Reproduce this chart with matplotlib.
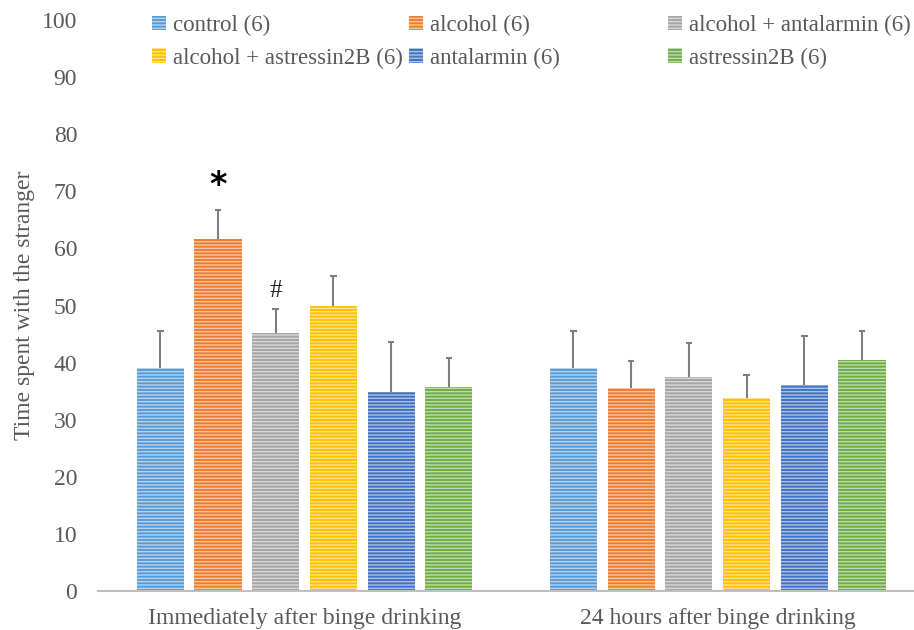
import matplotlib.pyplot as plt
import matplotlib.colors as mcolors
import numpy as np

plt.rcParams['font.family'] = ['Liberation Serif', 'DejaVu Serif']
plt.rcParams['hatch.linewidth'] = 1.0

categories = ['Immediately after binge drinking', '24 hours after binge drinking']
groups = ['control (6)', 'alcohol (6)', 'alcohol + antalarmin (6)',
          'alcohol + astressin2B (6)', 'antalarmin (6)', 'astressin2B (6)']
colors = ['#5B9BD5', '#ED7D31', '#A5A5A5', '#FFC000', '#4472C4', '#70AD47']

# rows = groups, columns = categories
means = [[39.0, 39.0],
         [61.6, 35.5],
         [45.2, 37.5],
         [49.9, 33.8],
         [34.9, 36.0],
         [35.7, 40.5]]
errs = [[6.6, 6.6],
        [5.1, 4.8],
        [4.2, 5.9],
        [5.3, 4.0],
        [8.7, 8.7],
        [5.1, 5.0]]

marks = [('*', 1, 0), ('#', 2, 0)]

fig = plt.figure(figsize=(9.14, 6.3), dpi=100)
ax = fig.add_axes([98 / 914, 39 / 630, 816 / 914, 571 / 630])

x = np.arange(len(categories))
step = 0.1397
width = 0.114

handles = []
for i, g in enumerate(groups):
    pos = x + (i - 2.5) * step
    light = mcolors.to_rgb(colors[i])
    light = tuple(c + (1 - c) * 0.55 for c in light)
    b = ax.bar(pos, means[i], width, color=colors[i], edgecolor=light,
               hatch='-----', linewidth=0, label=g, zorder=2)
    handles.append(b)
    tops = np.array(means[i]) + np.array(errs[i])
    ax.vlines(pos, means[i], tops, color='#7F7F7F', linewidth=1.5, zorder=3)
    ax.hlines(tops, pos - 0.008, pos + 0.008, color='#7F7F7F', linewidth=1.5, zorder=3)

for sym, gi, ci in marks:
    xp = x[ci] + (gi - 2.5) * step
    top = means[gi][ci] + errs[gi][ci]
    if sym == '*':
        ax.text(xp, top + 1.5, sym, ha='center', va='bottom', fontsize=24, color='black',
                family=['DejaVu Sans'], fontweight='bold')
    else:
        ax.text(xp, top + 1.3, sym, ha='center', va='bottom', fontsize=18, color='#222222')

ax.set_xlim(-0.5, 1.475)
ax.set_ylim(0, 100)
ax.set_yticks(np.arange(0, 101, 10))
ax.set_xticks(x)
ax.set_xticklabels(categories)
ax.tick_params(axis='both', length=0, labelsize=17, colors='#595959')
ax.tick_params(axis='x', pad=12)
ax.tick_params(axis='y', pad=15)
for s in ['top', 'right', 'left']:
    ax.spines[s].set_visible(False)
ax.spines['bottom'].set_color('#BFBFBF')
ax.spines['bottom'].set_linewidth(1.5)
ax.set_ylabel('Time spent with the stranger', fontsize=17, color='#595959', labelpad=5)

# legend in three columns placed like the original
col_x = [137, 394, 653]
for c in range(3):
    hs = [handles[c], handles[c + 3]]
    labs = [groups[c], groups[c + 3]]
    leg = fig.legend(hs, labs, loc='upper left', bbox_to_anchor=(col_x[c] / 914, 1.0),
                     frameon=False, fontsize=16.5, labelcolor='#595959',
                     handlelength=0.6, handleheight=0.6, handletextpad=0.3,
                     labelspacing=0.5, borderaxespad=0.25)

fig.savefig('out.png', dpi=100)
